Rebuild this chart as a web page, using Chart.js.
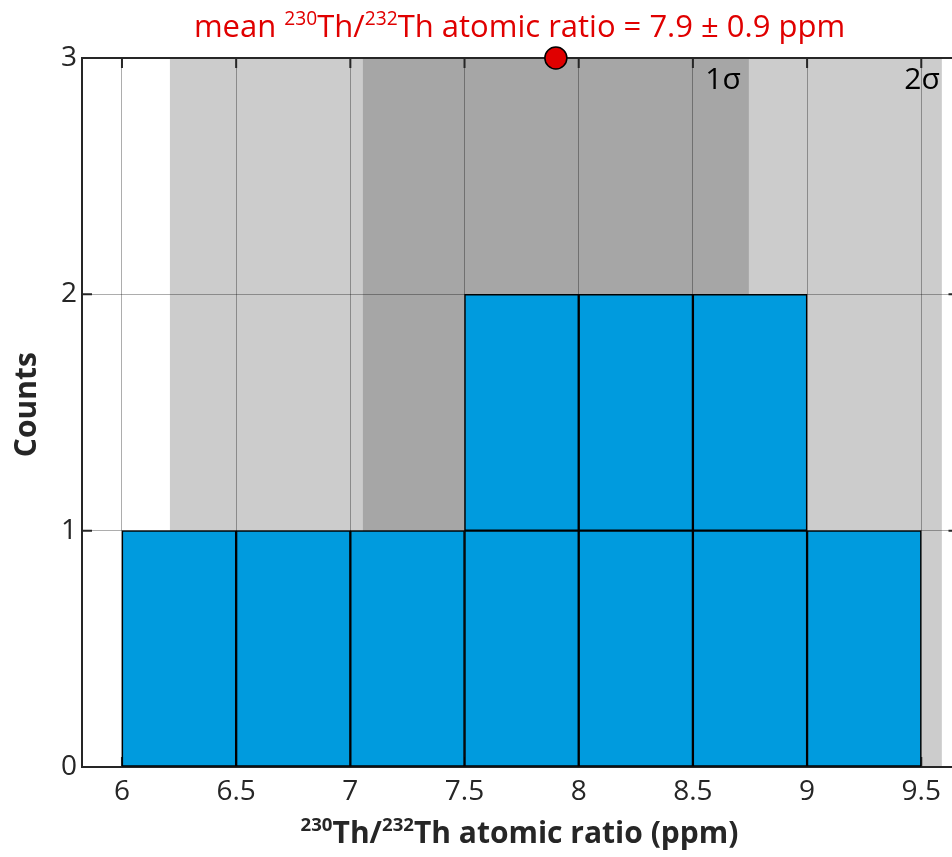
<!DOCTYPE html>
<html>
<head>
<meta charset="utf-8">
<script src="https://cdn.jsdelivr.net/npm/chart.js@4.4.1/dist/chart.umd.min.js"></script>
<style>
  body { margin: 0; background: #fff; font-family: "Open Sans", sans-serif; }
  #wrap { position: relative; width: 952px; height: 857px; overflow: hidden; }
  #chart { position: absolute; left: 0; top: 0; }
  .ttl { position: absolute; left: 0; width: 1039px; text-align: center; white-space: nowrap; }
  .ttl sup { font-size: 62%; line-height: 0; position: relative; top: -0.05em; }
  #mainTitle { top: 4px; color: #e00000; font-size: 31px; }
  #xTitle { top: 811px; color: #262626; font-size: 30px; font-weight: bold; }
</style>
</head>
<body>
<div id="wrap">
  <canvas id="chart" width="971" height="857"></canvas>
  <div id="mainTitle" class="ttl">mean <sup>230</sup>Th/<sup>232</sup>Th atomic ratio = 7.9 ± 0.9 ppm</div>
  <div id="xTitle" class="ttl"><sup>230</sup>Th/<sup>232</sup>Th atomic ratio (ppm)</div>
</div>
<script>
// histogram bins (each count drawn as its own box)
const binCenters = [6.25, 6.75, 7.25, 7.75, 8.25, 8.75, 9.25];
const countsLevel1 = [1, 1, 1, 1, 1, 1, 1];
const countsLevel2 = [null, null, null, 1, 1, 1, null];

const xTicks = [6, 6.5, 7, 7.5, 8, 8.5, 9, 9.5];
const yTicks = [0, 1, 2, 3];

const meanRatio = 7.9;
const band1s = [7.055, 8.745];
const band2s = [6.21, 9.59];

const axisColor = '#262626';

function pts(values) {
    return binCenters.map((x, i) => ({ x: x, y: values[i] }));
}

const backdrop = {
    id: 'backdrop',
    beforeDraw(chart) {
        const { ctx, chartArea: a, scales: { x } } = chart;
        ctx.save();
        ctx.fillStyle = '#fff';
        ctx.fillRect(0, 0, chart.width, chart.height);
        // sigma bands
        ctx.fillStyle = '#cccccc';
        ctx.fillRect(x.getPixelForValue(band2s[0]), a.top, x.getPixelForValue(band2s[1]) - x.getPixelForValue(band2s[0]), a.bottom - a.top);
        ctx.fillStyle = '#a6a6a6';
        ctx.fillRect(x.getPixelForValue(band1s[0]), a.top, x.getPixelForValue(band1s[1]) - x.getPixelForValue(band1s[0]), a.bottom - a.top);
        ctx.restore();
    },
    beforeDatasetsDraw(chart) {
        const { ctx, chartArea: a, scales: { x, y } } = chart;
        ctx.save();
        ctx.strokeStyle = axisColor;
        ctx.lineWidth = 2;
        ctx.beginPath();
        ctx.moveTo(a.left, a.top); ctx.lineTo(a.right, a.top);
        ctx.moveTo(a.right, a.top); ctx.lineTo(a.right, a.bottom);
        // ticks pointing inside
        xTicks.forEach(v => {
            const px = x.getPixelForValue(v);
            ctx.moveTo(px, a.top); ctx.lineTo(px, a.top + 10);
            ctx.moveTo(px, a.bottom); ctx.lineTo(px, a.bottom - 10);
        });
        yTicks.forEach(v => {
            const py = y.getPixelForValue(v);
            ctx.moveTo(a.left, py); ctx.lineTo(a.left + 10, py);
            ctx.moveTo(a.right, py); ctx.lineTo(a.right - 10, py);
        });
        ctx.stroke();
        // band labels
        ctx.fillStyle = '#000';
        ctx.font = '30px "Open Sans"';
        ctx.textAlign = 'right';
        ctx.textBaseline = 'alphabetic';
        ctx.fillText('1σ', x.getPixelForValue(band1s[1]) - 8, a.top + 31);
        ctx.fillText('2σ', x.getPixelForValue(band2s[1]) - 2, a.top + 31);
        ctx.restore();
    }
};

const barStyle = {
    type: 'bar',
    backgroundColor: '#009bde',
    borderColor: '#000',
    borderWidth: 1.5,
    borderSkipped: false,
    barPercentage: 1,
    categoryPercentage: 1,
    grouped: false
};

new Chart(document.getElementById('chart'), {
    type: 'bar',
    data: {
        datasets: [
            {
                type: 'scatter',
                data: [{ x: meanRatio, y: 3 }],
                pointRadius: 11,
                pointBackgroundColor: '#e00000',
                pointBorderColor: '#000',
                pointBorderWidth: 1.5,
                clip: false,
                order: -1
            },
            Object.assign({ data: pts(countsLevel1) }, barStyle),
            Object.assign({ data: pts(countsLevel2) }, barStyle)
        ]
    },
    options: {
        responsive: false,
        animation: false,
        devicePixelRatio: 1,
        layout: { padding: { top: 58, right: 3, left: 0, bottom: 0 } },
        plugins: { legend: { display: false }, tooltip: { enabled: false } },
        scales: {
            x: {
                type: 'linear',
                min: 5.825,
                max: 9.663,
                offset: false,
                afterBuildTicks: s => { s.ticks = xTicks.map(v => ({ value: v })); },
                afterFit: s => { s.height = 90; s.paddingLeft = 0; s.paddingRight = 0; },
                grid: { color: 'rgba(0,0,0,0.32)', lineWidth: 1, drawTicks: false, offset: false },
                border: { color: axisColor, width: 2 },
                ticks: { padding: 8, color: axisColor, font: { family: 'Open Sans', size: 28 }, maxRotation: 0, callback: v => String(v) }
            },
            y: {
                min: 0,
                max: 3,
                stacked: true,
                afterBuildTicks: s => { s.ticks = yTicks.map(v => ({ value: v })); },
                afterFit: s => { s.width = 82; },
                grid: { color: 'rgba(0,0,0,0.32)', lineWidth: 1, drawTicks: false },
                border: { color: axisColor, width: 2 },
                ticks: { padding: 5, color: axisColor, font: { family: 'Open Sans', size: 28 } },
                title: { display: true, text: '  Counts', color: axisColor, font: { family: 'Open Sans', size: 30, weight: 'bold' }, padding: { top: 9 } }
            }
        }
    },
    plugins: [backdrop]
});
</script>
</body>
</html>
